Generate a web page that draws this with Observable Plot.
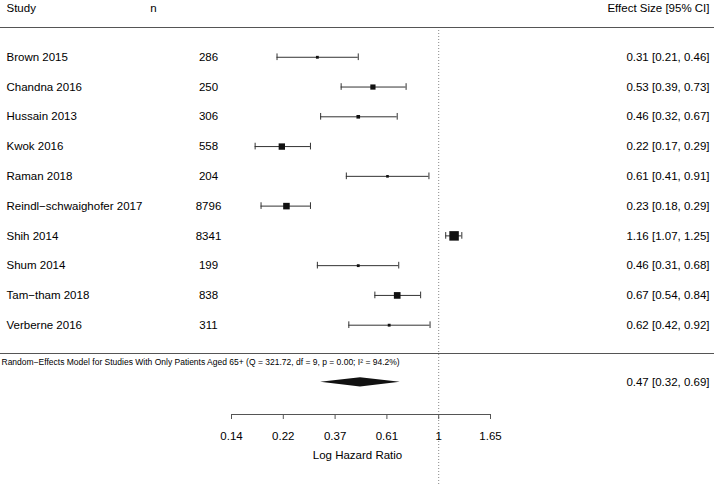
<!DOCTYPE html>
<html>
<head>
<meta charset="utf-8">
<script src="https://cdn.jsdelivr.net/npm/d3@7"></script>
<script src="https://cdn.jsdelivr.net/npm/@observablehq/plot@0.6"></script>
<style>
  html, body { margin: 0; padding: 0; background: #fff; }
</style>
</head>
<body>
<div id="chart"></div>
<script>
// ---- Data ----
const studies = ["Brown 2015", "Chandna 2016", "Hussain 2013", "Kwok 2016", "Raman 2018",
  "Reindl−schwaighofer 2017", "Shih 2014", "Shum 2014", "Tam−tham 2018", "Verberne 2016"];
const sampleSizes = [286, 250, 306, 558, 204, 8796, 8341, 199, 838, 311];
const estimates = [0.31, 0.53, 0.46, 0.22, 0.61, 0.23, 1.16, 0.46, 0.67, 0.62];
const lowerCI   = [0.21, 0.39, 0.32, 0.17, 0.41, 0.18, 1.07, 0.31, 0.54, 0.42];
const upperCI   = [0.46, 0.73, 0.67, 0.29, 0.91, 0.29, 1.25, 0.68, 0.84, 0.92];

const summaryLabel = "Random−Effects Model for Studies With Only Patients Aged 65+ (Q = 321.72, df = 9, p = 0.00; I² = 94.2%)";
const summaryEstimate = [0.47];
const summaryLower = [0.32];
const summaryUpper = [0.69];

const headers = ["Study", "n", "Effect Size [95% CI]"];
const tickLogValues = [-2, -1.5, -1, -0.5, 0, 0.5];
const tickLabels = ["0.14", "0.22", "0.37", "0.61", "1", "1.65"];
const axisTitle = "Log Hazard Ratio";

// ---- Derived table ----
const fmt = d3.format(".2f");
const rows = studies.map((s, i) => {
  const se = (Math.log(upperCI[i]) - Math.log(lowerCI[i])) / (2 * 1.96);
  return {
    study: s, n: sampleSizes[i], est: estimates[i], lo: lowerCI[i], hi: upperCI[i],
    row: i + 1, prec: 1 / se,
    label: `${fmt(estimates[i])} [${fmt(lowerCI[i])}, ${fmt(upperCI[i])}]`
  };
});

// layout rows (in row units)
const headerRow = -0.64;
const sepRow = 10.95;
const summaryTextRow = 11.25;
const summaryRow = 11.92;
const axisRow = 13;
const capHalf = 0.112;
const diamondHalf = 0.158;

const diamond = [
  {v: summaryLower[0], w: 0},
  {v: summaryEstimate[0], w: 1},
  {v: summaryUpper[0], w: 0}
];

const font = "Liberation Sans, Arial, Helvetica, sans-serif";
const lineColor = "#333";
const fs = 11.5;

const chart = Plot.plot({
  width: 714,
  height: 484,
  marginTop: 27,
  marginBottom: 70,
  marginLeft: 0,
  marginRight: 0,
  style: {fontFamily: font, fontSize: "12px", background: "#fff", color: "#000"},
  x: {type: "linear", domain: [tickLogValues[0], tickLogValues[tickLogValues.length - 1]], range: [231, 490]},
  y: {type: "linear", domain: [0, 13], range: [27, 414], axis: null},
  r: {type: "linear", domain: [4.9, 5.3, 6.25, 7.35, 25], range: [2.6, 3.6, 5.2, 6.4, 9.5].map(s => s / Math.sqrt(Math.PI)), clamp: true},
  marks: [
    // separators
    Plot.ruleY([0, sepRow], {stroke: "#555", strokeWidth: 1.1}),
    // reference line at HR = 1
    Plot.ruleX([Math.log(1)], {stroke: "#888", strokeDasharray: "1,2", insetTop: 3, insetBottom: -70}),
    // CI lines
    Plot.ruleY(rows, {y: "row", x1: d => Math.log(d.lo), x2: d => Math.log(d.hi), stroke: lineColor, strokeWidth: 1}),
    Plot.ruleX(rows, {x: d => Math.log(d.lo), y1: d => d.row - capHalf, y2: d => d.row + capHalf, stroke: lineColor}),
    Plot.ruleX(rows, {x: d => Math.log(d.hi), y1: d => d.row - capHalf, y2: d => d.row + capHalf, stroke: lineColor}),
    // point estimates
    Plot.dot(rows, {x: d => Math.log(d.est), y: "row", r: "prec", symbol: "square", fill: "#111", stroke: "none"}),
    // summary diamond
    Plot.areaY(diamond, {x: d => Math.log(d.v), y1: d => summaryRow - d.w * diamondHalf, y2: d => summaryRow + d.w * diamondHalf, fill: "#111"}),
    // headers
    Plot.text([headers[0]], {y: [headerRow], text: d => d, frameAnchor: "left", dx: 6, textAnchor: "start", fontSize: fs}),
    Plot.text([headers[1]], {y: [headerRow], text: d => d, frameAnchor: "left", dx: 153, textAnchor: "middle", fontSize: fs}),
    Plot.text([headers[2]], {y: [headerRow], text: d => d, frameAnchor: "right", dx: -5, textAnchor: "end", fontSize: fs}),
    // study columns
    Plot.text(rows, {y: "row", text: "study", frameAnchor: "left", dx: 6, textAnchor: "start", fontSize: fs}),
    Plot.text(rows, {y: "row", text: d => String(d.n), frameAnchor: "left", dx: 208, textAnchor: "middle", fontSize: fs}),
    Plot.text(rows, {y: "row", text: "label", frameAnchor: "right", dx: -5, textAnchor: "end", fontSize: fs}),
    // summary
    Plot.text([summaryLabel], {y: [summaryTextRow], text: d => d, frameAnchor: "left", dx: 1, textAnchor: "start", fontSize: 8.5}),
    Plot.text(summaryEstimate, {y: [summaryRow], text: (d, i) => `${fmt(d)} [${fmt(summaryLower[i])}, ${fmt(summaryUpper[i])}]`, frameAnchor: "right", dx: -5, textAnchor: "end", fontSize: fs}),
    // x axis
    Plot.ruleY([axisRow], {x1: tickLogValues[0], x2: tickLogValues[tickLogValues.length - 1], stroke: "#555"}),
    Plot.axisX({
      anchor: "bottom",
      ticks: tickLogValues,
      tickFormat: d => tickLabels[tickLogValues.indexOf(d)],
      tickSize: 5,
      tickPadding: 12,
      stroke: "#555",
      fontSize: fs,
      label: axisTitle,
      labelAnchor: "center",
      labelArrow: "none",
      labelOffset: 44
    })
  ]
});

document.getElementById("chart").appendChild(chart);
</script>
</body>
</html>
